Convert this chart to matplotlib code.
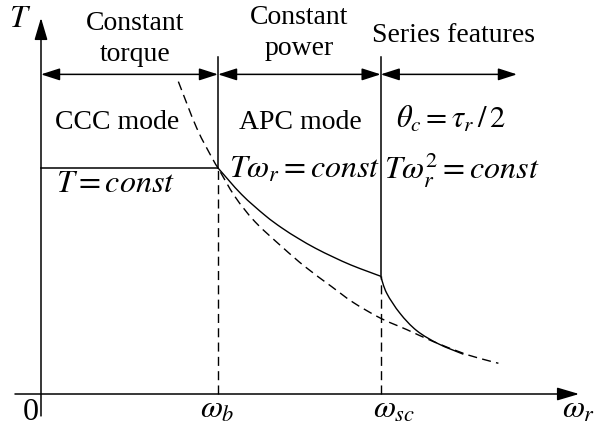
import matplotlib
matplotlib.use("Agg")
import numpy as np
import matplotlib.pyplot as plt
from matplotlib.patches import FancyArrowPatch, ArrowStyle, PathPatch
from matplotlib.path import Path

plt.rcParams["mathtext.fontset"] = "stix"
plt.rcParams["font.family"] = ["Liberation Serif", "DejaVu Serif"]

# Normalised speed / torque (base speed and rated torque = 1)
w_b = 1.0
w_sc = 1.919
T_rated = 1.0

# Natural (dashed) torque-speed limit curve
limit_w = [0.776, 0.880, 0.973, 1.0, 1.096, 1.209, 1.360, 1.492, 1.642,
           1.764, 1.919, 2.066, 2.216, 2.386, 2.486, 2.584]
limit_T = [1.382, 1.176, 1.035, 1.0, 0.873, 0.762, 0.652, 0.563, 0.475,
           0.405, 0.335, 0.285, 0.232, 0.180, 0.156, 0.136]

# Constant-power (APC mode) branch
apc_w = [1.0, 1.133, 1.266, 1.360, 1.454, 1.550, 1.651, 1.750, 1.850, 1.919]
apc_T = [1.0, 0.883, 0.790, 0.735, 0.688, 0.645, 0.606, 0.571, 0.541, 0.521]

# Series-feature branch
ser_w = [1.919, 1.953, 2.028, 2.123, 2.245, 2.386]
ser_T = [0.521, 0.446, 0.357, 0.280, 0.222, 0.176]

region_labels = ["Constant\ntorque", "Constant\npower", "Series features"]
mode_labels = ["CCC mode", "APC mode", r"$\theta_c = \tau_r\,/\,2$"]
curve_labels = [r"$T = const$", r"$T\omega_r = const$", r"$T\omega_r^2 = const$"]


def smooth_curve(xs, ys):
    """Cubic Bezier path passing through every given point (Catmull-Rom)."""
    p = np.column_stack([xs, ys]).astype(float)
    n = len(p)
    verts = [p[0]]
    codes = [Path.MOVETO]
    for i in range(n - 1):
        p0 = p[max(i - 1, 0)]
        p1 = p[i]
        p2 = p[i + 1]
        p3 = p[min(i + 2, n - 1)]
        verts += [p1 + (p2 - p0) / 6.0, p2 - (p3 - p1) / 6.0, p2]
        codes += [Path.CURVE4] * 3
    return Path(verts, codes)


fig = plt.figure(figsize=(5.97, 4.28), dpi=100)
ax = fig.add_axes([0, 0, 1, 1])
ax.set_xlim(-0.2316, 3.141)
ax.set_ylim(-0.1504, 1.743)
ax.axis("off")

k = "black"
dash = (0, (6.5, 3.8))

# Coordinate axes with arrowheads
axstyle = ArrowStyle("-|>", head_length=1.35, head_width=0.4)
ax.add_patch(FancyArrowPatch((-0.147, 0), (3.04, 0), arrowstyle=axstyle,
                             mutation_scale=10, lw=1.1, color=k,
                             shrinkA=0, shrinkB=0))
ax.add_patch(FancyArrowPatch((0, -0.097), (0, 1.664), arrowstyle=axstyle,
                             mutation_scale=10, lw=1.1, color=k,
                             shrinkA=0, shrinkB=0))

# Region boundaries
top = 1.491
ax.plot([w_b, w_b], [T_rated, top], color=k, lw=1.1)
ax.plot([w_b, w_b], [0, T_rated], color=k, lw=1.0, linestyle=dash)
ax.plot([w_sc, w_sc], [apc_T[-1], top], color=k, lw=1.1)
ax.plot([w_sc, w_sc], [0, apc_T[-1]], color=k, lw=1.0, linestyle=dash)

# Region span arrows
span_y = 1.414
dstyle = ArrowStyle("<|-|>", head_length=1.15, head_width=0.37)
for a, b in [(0, w_b), (w_b, w_sc), (w_sc, 2.689)]:
    ax.add_patch(FancyArrowPatch((a, span_y), (b, span_y), arrowstyle=dstyle,
                                 mutation_scale=10, lw=1.1, color=k,
                                 shrinkA=0, shrinkB=0))

# Torque characteristics
ax.plot([0, w_b], [T_rated, T_rated], color=k, lw=1.1)
ax.add_patch(PathPatch(smooth_curve(limit_w, limit_T), fill=False,
                       edgecolor=k, lw=1.0, linestyle=dash))
ax.add_patch(PathPatch(smooth_curve(apc_w, apc_T), fill=False,
                       edgecolor=k, lw=1.0))
ax.add_patch(PathPatch(smooth_curve(ser_w, ser_T), fill=False,
                       edgecolor=k, lw=1.0))

fs = 20
fm = 23
ax.text(0.531, 1.572, region_labels[0], ha="center", va="center",
        fontsize=fs, linespacing=1.3)
ax.text(1.458, 1.597, region_labels[1], ha="center", va="center",
        fontsize=fs, linespacing=1.3)
ax.text(2.328, 1.588, region_labels[2], ha="center", va="center", fontsize=fs)

ax.text(0.429, 1.200, mode_labels[0], ha="center", va="center", fontsize=fs)
ax.text(1.463, 1.200, mode_labels[1], ha="center", va="center", fontsize=fs)
ax.text(2.005, 1.212, mode_labels[2], ha="left", va="center", fontsize=22)

ax.text(0.085, 0.925, curve_labels[0], ha="left", va="center", fontsize=fm)
ax.text(1.063, 0.991, curve_labels[1], ha="left", va="center", fontsize=fm)
ax.text(1.935, 0.991, curve_labels[2], ha="left", va="center", fontsize=fm)

# Axis labels and ticks
ax.text(-0.119, 1.655, r"$T$", ha="center", va="center", fontsize=fm)
ax.text(-0.056, -0.084, "0", ha="center", va="center", fontsize=fm)
ax.text(0.994, -0.071, r"$\omega_b$", ha="center", va="center", fontsize=fm)
ax.text(1.878, -0.071, r"$\omega_{sc}$", ha="left", va="center", fontsize=fm)
ax.text(2.945, -0.071, r"$\omega_r$", ha="left", va="center", fontsize=fm)

fig.savefig("out.png", dpi=100, facecolor="white")
